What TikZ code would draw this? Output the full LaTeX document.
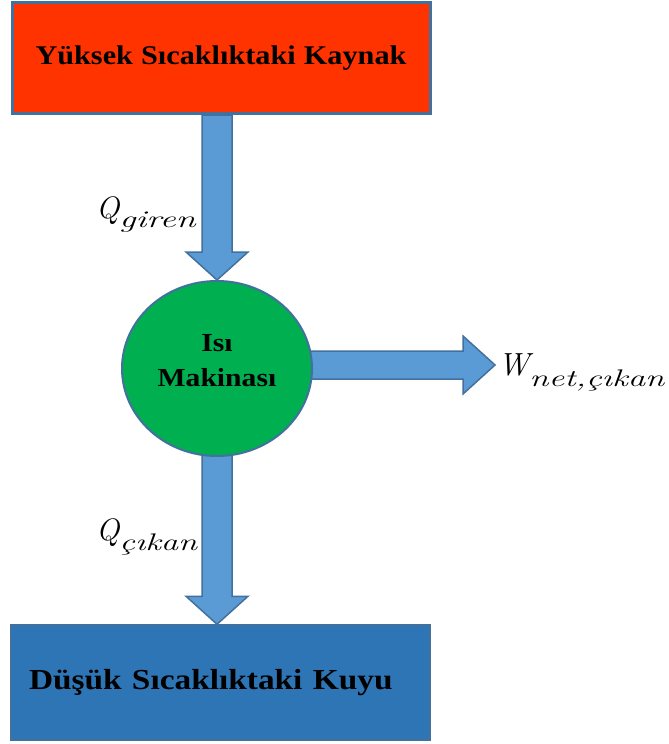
\documentclass[tikz,border=0pt]{standalone}
\usepackage{fontspec}
\setmainfont{Liberation Serif}
\usepackage{graphicx}
\usetikzlibrary{shapes.geometric,calc,backgrounds}
\definecolor{redfill}{HTML}{FF3300}
\definecolor{edgeblue}{HTML}{41719C}
\definecolor{greenfill}{HTML}{00B050}
\definecolor{arrowfill}{HTML}{5B9BD5}
\definecolor{sinkfill}{HTML}{2E75B6}
\newcommand\lmit{\fontfamily{lmr}\fontshape{it}\selectfont}
\newcommand\vblockarrow[2]{%
  \draw[blockarrow] ($(#1)+(-15,0)$) -- ($(#2)+(-15,-28)$) -- ($(#2)+(-31,-28)$) -- (#2)
    -- ($(#2)+(31,-28)$) -- ($(#2)+(15,-28)$) -- ($(#1)+(15,0)$) -- cycle;}
\newcommand\hblockarrow[2]{%
  \draw[blockarrow] ($(#1)+(0,-14)$) -- ($(#2)+(-32,-14)$) -- ($(#2)+(-32,-29)$) -- (#2)
    -- ($(#2)+(-32,29)$) -- ($(#2)+(-32,14)$) -- ($(#1)+(0,14)$) -- cycle;}
\begin{document}
\begin{tikzpicture}[x=1pt,y=-1pt,
  sourcebox/.style={rectangle, draw=edgeblue, line width=3pt, fill=redfill,
    minimum width=418pt, minimum height=111.5pt, inner sep=0pt},
  sinkbox/.style={rectangle, draw=edgeblue, line width=1.5pt, fill=sinkfill,
    minimum width=419pt, minimum height=115pt, inner xsep=18pt, inner ysep=0pt,
    text width=383pt, align=left},
  engine/.style={ellipse, draw=edgeblue, line width=2pt, fill=greenfill,
    minimum width=190pt, minimum height=175pt, inner sep=0pt,
    font=\fontsize{26}{35}\selectfont\bfseries},
  blockarrow/.style={draw=edgeblue, line width=1.5pt, fill=arrowfill, line join=miter},
  lbl/.style={inner sep=0pt, font=\fontsize{31}{31}\selectfont\lmit}
]
\useasboundingbox (0,0) rectangle (669,744);

\node[sourcebox] (src) at (221,57.75)
  {\scalebox{1.12}[1]{\fontsize{27}{27}\selectfont\bfseries\spaceskip=0.27em Yüksek Sıcaklıktaki Kaynak}};
\node[engine] (eng) at (217,368.5)
  {\scalebox{1.14}[1]{\begin{tabular}{@{}c@{}}Isı\\Makinası\end{tabular}}\rule[-42pt]{0pt}{1pt}};
\node[sinkbox] (snk) at (220.5,682.5)
  {\scalebox{1.15}[1]{\fontsize{29}{29}\selectfont\bfseries\spaceskip=0.31em Düşük Sıcaklıktaki Kuyu}};

\coordinate (srcout) at (src.south -| eng.center);
\coordinate (sinktip) at (snk.north -| eng.center);
\coordinate (wtip) at (495,365);
\coordinate (wstart) at (eng.center |- wtip);

\begin{scope}[on background layer]
  \fill[white] (0,0) rectangle (669,744);
  \vblockarrow{srcout}{eng.north}
  \vblockarrow{eng.center}{sinktip}
  \hblockarrow{wstart}{wtip}
\end{scope}

\node[lbl, anchor=base west] (qin) at (96,218)
  {Q\raisebox{-9pt}{\scalebox{1.5}[1]{\fontsize{24}{24}\lmit giren}}};
\node[lbl, anchor=base west] (qout) at (96,540)
  {Q\raisebox{-10pt}{\scalebox{1.44}[1]{\fontsize{24}{24}\lmit çıkan}}};
\node[lbl, anchor=base west, font=\fontsize{32}{32}\selectfont\lmit] (wout) at (498,375)
  {W\raisebox{-11pt}{\scalebox{1.45}[1]{\fontsize{24}{24}\lmit net,çıkan}}};
\end{tikzpicture}
\end{document}
